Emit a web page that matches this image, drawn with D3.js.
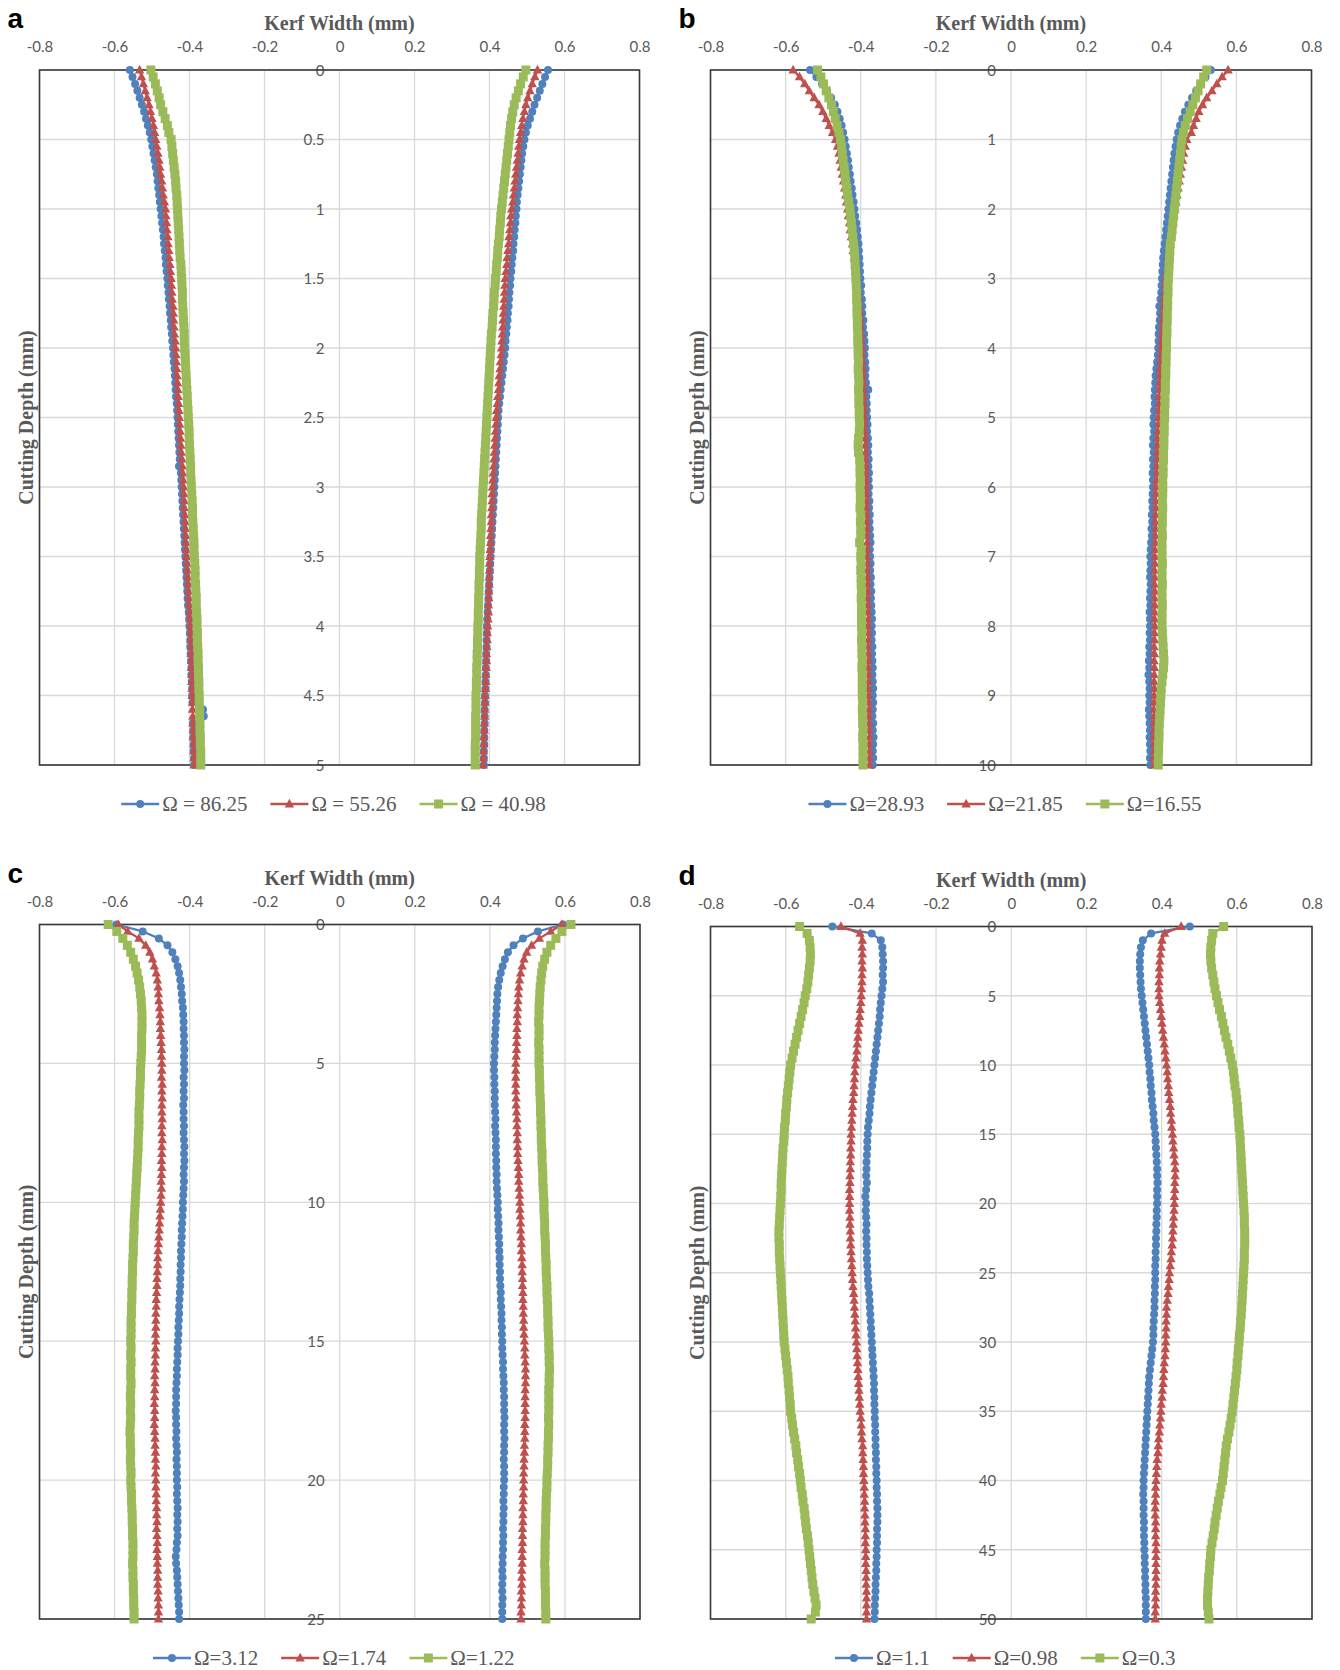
<!DOCTYPE html>
<html><head><meta charset="utf-8">
<script src="https://cdn.jsdelivr.net/npm/d3@7"></script>
<style>body{margin:0;background:#fff}svg{display:block}</style>
</head><body><svg id="chart" width="1340" height="1670"></svg>
<script>
// ---------------- DATA ----------------
const xTicks = [-0.8,-0.6,-0.4,-0.2,0,0.2,0.4,0.6,0.8];
const yTicksA = [0,0.5,1,1.5,2,2.5,3,3.5,4,4.5,5];
const yTicksB = [0,1,2,3,4,5,6,7,8,9,10];
const yTicksC = [0,5,10,15,20,25];
const yTicksD = [0,5,10,15,20,25,30,35,40,45,50];
const depthStepA = 0.05, depthStepB = 0.1, depthStepC = 0.25, depthStepD = 0.5;
const legendA = ["Ω = 86.25","Ω = 55.26","Ω = 40.98"];
const legendB = ["Ω=28.93","Ω=21.85","Ω=16.55"];
const legendC = ["Ω=3.12","Ω=1.74","Ω=1.22"];
const legendD = ["Ω=1.1","Ω=0.98","Ω=0.3"];

// Panel a (depth 0..5 mm)
const aBlueL = [-.559,-.552,-.545,-.539,-.533,-.527,-.521,-.516,-.511,-.506,
-.502,-.499,-.496,-.493,-.490,-.487,-.485,-.483,-.481,-.479,
-.477,-.475,-.473,-.471,-.469,-.468,-.466,-.464,-.463,-.461,
-.459,-.458,-.456,-.455,-.453,-.452,-.450,-.449,-.447,-.446,
-.444,-.443,-.442,-.440,-.439,-.438,-.437,-.436,-.434,-.433,
-.432,-.431,-.430,-.429,-.428,-.427,-.426,-.428,-.423,-.422,
-.421,-.420,-.419,-.418,-.417,-.416,-.415,-.414,-.413,-.412,
-.411,-.410,-.409,-.408,-.407,-.406,-.405,-.404,-.402,-.401,
-.400,-.399,-.398,-.398,-.397,-.396,-.395,-.395,-.394,-.393,
-.393,-.392,-.364,-.362,-.391,-.390,-.390,-.389,-.389,-.388,-.388];
const aRedL = [-.533,-.528,-.523,-.518,-.513,-.508,-.504,-.500,-.496,-.493,
-.490,-.487,-.484,-.481,-.479,-.477,-.474,-.472,-.470,-.467,
-.464,-.463,-.461,-.460,-.458,-.457,-.455,-.454,-.452,-.451,
-.449,-.448,-.447,-.446,-.444,-.443,-.442,-.441,-.440,-.438,
-.437,-.436,-.435,-.434,-.433,-.432,-.431,-.430,-.429,-.428,
-.427,-.426,-.425,-.424,-.423,-.422,-.420,-.419,-.418,-.417,
-.416,-.415,-.414,-.414,-.413,-.412,-.411,-.410,-.410,-.409,
-.408,-.407,-.406,-.405,-.404,-.403,-.402,-.401,-.400,-.399,
-.398,-.397,-.397,-.396,-.396,-.395,-.395,-.394,-.394,-.393,
-.393,-.392,-.392,-.391,-.391,-.390,-.390,-.389,-.389,-.388,-.388];
const aGreenL = [-.503,-.497,-.491,-.486,-.481,-.477,-.471,-.465,-.459,-.455,
-.449,-.447,-.445,-.443,-.441,-.439,-.437,-.436,-.434,-.433,
-.432,-.431,-.430,-.429,-.428,-.427,-.426,-.425,-.423,-.422,
-.421,-.420,-.419,-.419,-.418,-.417,-.416,-.415,-.414,-.414,
-.413,-.412,-.411,-.410,-.409,-.408,-.407,-.406,-.405,-.404,
-.403,-.402,-.401,-.401,-.400,-.399,-.398,-.397,-.397,-.396,
-.395,-.394,-.393,-.392,-.392,-.391,-.390,-.389,-.388,-.388,
-.387,-.386,-.385,-.385,-.384,-.383,-.382,-.382,-.381,-.380,
-.380,-.379,-.379,-.378,-.377,-.377,-.376,-.376,-.375,-.375,
-.374,-.374,-.373,-.373,-.372,-.372,-.371,-.371,-.370,-.370,-.370];
const aBlueR = [.556,.548,.541,.534,.527,.520,.514,.508,.502,.497,
.493,.490,.487,.485,.483,.481,.479,.477,.475,.473,
.472,.470,.469,.467,.466,.464,.463,.461,.459,.458,
.456,.455,.453,.452,.451,.449,.448,.446,.445,.443,
.442,.440,.438,.436,.434,.432,.430,.428,.426,.424,
.423,.422,.421,.420,.419,.418,.417,.416,.415,.414,
.413,.412,.411,.410,.409,.408,.407,.406,.405,.404,
.403,.402,.401,.400,.399,.398,.397,.396,.395,.394,
.393,.393,.392,.392,.391,.391,.390,.390,.389,.389,
.388,.388,.387,.387,.387,.386,.386,.386,.385,.385,.385];
const aRedR = [.528,.521,.514,.508,.502,.497,.493,.489,.486,.483,
.480,.478,.476,.474,.472,.470,.468,.466,.464,.462,
.459,.457,.456,.454,.452,.451,.449,.447,.446,.444,
.442,.441,.440,.439,.438,.437,.436,.435,.434,.433,
.432,.431,.429,.428,.426,.425,.424,.422,.421,.419,
.418,.417,.416,.415,.414,.413,.412,.411,.410,.409,
.408,.407,.407,.406,.405,.405,.404,.403,.403,.402,
.401,.400,.400,.399,.399,.398,.398,.397,.397,.396,
.395,.394,.394,.393,.392,.392,.391,.390,.390,.389,
.388,.388,.387,.387,.386,.386,.385,.385,.384,.384,.383];
const aGreenR = [.497,.490,.483,.477,.471,.466,.462,.459,.456,.454,
.452,.450,.448,.446,.444,.442,.440,.438,.436,.434,
.432,.430,.429,.427,.426,.424,.422,.421,.419,.418,
.416,.415,.413,.412,.411,.409,.408,.407,.405,.404,
.403,.402,.401,.400,.399,.398,.397,.396,.395,.394,
.393,.392,.391,.390,.389,.388,.387,.386,.385,.384,
.383,.382,.381,.380,.379,.378,.378,.377,.376,.375,
.374,.374,.373,.373,.372,.372,.371,.371,.370,.370,
.369,.369,.368,.368,.367,.367,.366,.366,.365,.365,
.364,.364,.364,.363,.363,.363,.363,.362,.362,.362,.362];

// Panel b (depth 0..10 mm)
const bBlueL = [-.535,-.518,-.503,-.490,-.479,-.469,-.462,-.456,-.451,-.447,
-.443,-.440,-.437,-.434,-.432,-.429,-.427,-.424,-.422,-.419,
-.417,-.415,-.412,-.410,-.408,-.406,-.405,-.404,-.403,-.402,
-.401,-.399,-.400,-.397,-.396,-.396,-.393,-.394,-.391,-.390,
-.389,-.390,-.388,-.387,-.388,-.386,-.380,-.385,-.384,-.384,
-.383,-.382,-.383,-.381,-.380,-.381,-.379,-.380,-.378,-.379,
-.378,-.379,-.377,-.378,-.376,-.377,-.376,-.375,-.374,-.376,
-.375,-.374,-.375,-.373,-.374,-.372,-.373,-.372,-.371,-.370,
-.371,-.370,-.371,-.369,-.370,-.369,-.368,-.369,-.368,-.367,
-.368,-.367,-.368,-.369,-.367,-.368,-.366,-.367,-.368,-.367,-.368];
const bRedL = [-.580,-.563,-.549,-.537,-.524,-.511,-.501,-.492,-.484,-.475,
-.467,-.462,-.458,-.455,-.452,-.449,-.446,-.443,-.440,-.438,
-.435,-.433,-.430,-.428,-.425,-.422,-.420,-.417,-.415,-.412,
-.410,-.408,-.407,-.405,-.404,-.402,-.401,-.400,-.399,-.398,
-.397,-.396,-.395,-.394,-.394,-.393,-.392,-.392,-.391,-.390,
-.390,-.389,-.389,-.388,-.388,-.387,-.387,-.386,-.386,-.385,
-.385,-.385,-.384,-.385,-.384,-.384,-.383,-.384,-.383,-.383,
-.383,-.382,-.383,-.382,-.382,-.381,-.382,-.381,-.381,-.380,
-.381,-.380,-.380,-.381,-.380,-.379,-.380,-.379,-.379,-.380,
-.379,-.379,-.378,-.379,-.378,-.378,-.377,-.378,-.377,-.377,-.377];
const bGreenL = [-.515,-.506,-.499,-.492,-.485,-.478,-.473,-.468,-.463,-.458,
-.454,-.451,-.449,-.447,-.444,-.442,-.440,-.437,-.435,-.432,
-.429,-.427,-.425,-.423,-.421,-.419,-.417,-.416,-.415,-.414,
-.413,-.412,-.411,-.411,-.410,-.410,-.409,-.409,-.408,-.408,
-.407,-.407,-.406,-.407,-.406,-.405,-.406,-.405,-.405,-.404,
-.404,-.403,-.404,-.406,-.407,-.406,-.403,-.402,-.402,-.401,
-.402,-.401,-.401,-.402,-.400,-.401,-.400,-.400,-.403,-.399,
-.400,-.399,-.400,-.399,-.399,-.398,-.399,-.398,-.398,-.398,
-.398,-.397,-.398,-.397,-.397,-.396,-.397,-.396,-.396,-.396,
-.396,-.395,-.396,-.395,-.395,-.394,-.395,-.394,-.394,-.394,-.394];
const bBlueR = [.532,.518,.505,.493,.482,.472,.463,.456,.450,.445,
.441,.438,.435,.433,.431,.429,.427,.425,.423,.421,
.419,.417,.415,.413,.411,.409,.407,.405,.404,.403,
.402,.401,.400,.398,.395,.397,.396,.394,.393,.393,
.392,.391,.389,.387,.385,.384,.383,.382,.383,.381,
.380,.379,.381,.379,.378,.380,.378,.379,.377,.378,
.378,.377,.376,.377,.375,.376,.374,.375,.373,.372,
.371,.372,.371,.370,.372,.371,.370,.371,.369,.370,
.370,.369,.370,.368,.369,.367,.368,.366,.368,.369,
.368,.369,.367,.368,.369,.370,.369,.370,.371,.370,.371];
const bRedR = [.578,.562,.548,.535,.521,.510,.500,.493,.486,.480,
.468,.464,.460,.457,.454,.451,.448,.445,.442,.439,
.436,.433,.430,.428,.425,.423,.420,.418,.416,.414,
.412,.410,.409,.407,.406,.405,.404,.403,.402,.401,
.400,.399,.398,.397,.396,.396,.395,.394,.394,.393,
.392,.392,.391,.390,.390,.389,.389,.388,.388,.387,
.386,.386,.385,.386,.385,.384,.385,.384,.384,.383,
.383,.383,.382,.383,.382,.383,.382,.383,.382,.382,
.383,.382,.382,.381,.382,.381,.382,.381,.381,.382,
.381,.381,.380,.381,.380,.381,.380,.381,.381,.380,.381];
const bGreenR = [.521,.513,.505,.498,.491,.484,.477,.470,.464,.459,
.455,.453,.451,.449,.447,.445,.443,.441,.439,.437,
.435,.433,.431,.429,.427,.424,.423,.422,.421,.420,
.419,.418,.418,.417,.417,.416,.416,.415,.415,.414,
.414,.413,.413,.412,.412,.411,.411,.410,.410,.409,
.409,.408,.408,.407,.407,.406,.406,.405,.405,.404,
.404,.404,.403,.404,.403,.403,.402,.403,.402,.402,
.402,.403,.402,.402,.403,.402,.402,.403,.402,.402,
.402,.403,.404,.405,.406,.407,.406,.404,.402,.400,
.399,.398,.397,.396,.395,.394,.394,.393,.393,.392,.392];

// Panel c (depth 0..25 mm)
const cBlueL = [-.595,-.525,-.482,-.459,-.446,-.438,-.432,-.428,-.425,-.423,
-.421,-.420,-.418,-.417,-.416,-.416,-.415,-.415,-.414,-.415,
-.415,-.414,-.416,-.415,-.416,-.415,-.417,-.416,-.416,-.415,
-.416,-.415,-.414,-.415,-.414,-.415,-.416,-.415,-.416,-.417,
-.418,-.418,-.419,-.420,-.421,-.421,-.422,-.423,-.423,-.424,
-.424,-.425,-.425,-.426,-.427,-.428,-.428,-.429,-.430,-.430,
-.431,-.432,-.432,-.433,-.434,-.434,-.435,-.436,-.436,-.436,
-.437,-.436,-.436,-.435,-.436,-.435,-.434,-.435,-.434,-.434,
-.434,-.433,-.434,-.433,-.432,-.433,-.432,-.433,-.432,-.434,
-.435,-.437,-.436,-.434,-.433,-.432,-.431,-.430,-.429,-.428,-.428];
const cRedL = [-.590,-.565,-.535,-.517,-.506,-.499,-.494,-.489,-.486,-.484,
-.483,-.482,-.480,-.479,-.478,-.478,-.477,-.476,-.475,-.475,
-.474,-.474,-.475,-.473,-.474,-.473,-.474,-.474,-.473,-.474,
-.474,-.473,-.474,-.474,-.475,-.474,-.475,-.476,-.475,-.476,
-.477,-.478,-.479,-.480,-.481,-.482,-.483,-.484,-.485,-.485,
-.486,-.487,-.487,-.488,-.489,-.489,-.490,-.490,-.490,-.491,
-.490,-.491,-.491,-.492,-.492,-.493,-.492,-.493,-.493,-.494,
-.493,-.493,-.494,-.493,-.492,-.492,-.491,-.491,-.490,-.491,
-.490,-.490,-.489,-.489,-.488,-.488,-.487,-.488,-.487,-.486,
-.487,-.486,-.486,-.485,-.485,-.485,-.484,-.484,-.483,-.483,-.483];
const cGreenL = [-.617,-.594,-.578,-.566,-.557,-.550,-.544,-.540,-.536,-.533,
-.531,-.529,-.528,-.527,-.527,-.527,-.528,-.528,-.528,-.529,
-.530,-.531,-.531,-.532,-.533,-.533,-.534,-.535,-.535,-.535,
-.536,-.537,-.537,-.538,-.539,-.540,-.541,-.542,-.543,-.544,
-.545,-.546,-.547,-.548,-.548,-.549,-.550,-.550,-.551,-.552,
-.552,-.553,-.553,-.554,-.554,-.555,-.555,-.556,-.556,-.556,
-.557,-.556,-.557,-.556,-.557,-.557,-.556,-.557,-.558,-.557,
-.558,-.557,-.558,-.559,-.558,-.558,-.557,-.558,-.557,-.556,
-.557,-.556,-.555,-.555,-.554,-.553,-.553,-.552,-.552,-.551,
-.551,-.551,-.552,-.551,-.551,-.550,-.550,-.549,-.549,-.548,-.548];
const cBlueR = [.595,.528,.488,.463,.448,.440,.434,.429,.425,.422,
.420,.419,.418,.417,.416,.415,.414,.413,.413,.412,
.411,.411,.412,.412,.413,.413,.413,.414,.415,.414,
.415,.416,.416,.416,.417,.417,.418,.418,.419,.420,
.421,.421,.422,.423,.423,.424,.425,.425,.426,.426,
.427,.427,.428,.429,.429,.430,.431,.431,.432,.432,
.433,.433,.434,.435,.435,.436,.437,.437,.438,.438,
.438,.439,.438,.438,.439,.438,.438,.437,.438,.438,
.438,.437,.437,.436,.437,.436,.436,.435,.436,.435,
.435,.434,.434,.433,.434,.433,.433,.434,.433,.433,.433];
const cRedR = [.592,.562,.532,.511,.498,.491,.486,.482,.479,.477,
.476,.475,.474,.473,.473,.472,.472,.471,.471,.470,
.469,.469,.469,.469,.469,.470,.470,.471,.472,.472,
.473,.473,.474,.474,.475,.476,.477,.477,.478,.479,
.480,.480,.481,.482,.482,.483,.484,.484,.485,.486,
.486,.487,.487,.488,.488,.489,.489,.490,.490,.491,
.492,.493,.493,.494,.495,.495,.495,.494,.494,.494,
.494,.494,.493,.493,.493,.492,.492,.491,.491,.490,
.490,.490,.489,.489,.488,.488,.488,.487,.487,.487,
.486,.486,.486,.485,.485,.485,.484,.484,.484,.483,.483];
const cGreenR = [.616,.592,.576,.562,.552,.546,.541,.538,.536,.534,
.533,.532,.531,.531,.530,.531,.531,.530,.531,.531,
.531,.532,.532,.533,.533,.534,.535,.535,.536,.536,
.537,.537,.538,.539,.539,.540,.541,.541,.542,.543,
.544,.544,.545,.546,.546,.547,.548,.548,.549,.550,
.550,.551,.552,.552,.553,.554,.554,.555,.555,.556,
.557,.557,.558,.558,.559,.558,.558,.557,.557,.557,
.557,.556,.557,.556,.556,.555,.555,.554,.554,.553,
.552,.552,.551,.550,.550,.549,.549,.548,.548,.547,
.547,.547,.546,.547,.547,.547,.548,.548,.548,.549,.549];

// Panel d (depth 0..50 mm)
const dBlueL = [-.476,-.371,-.347,-.343,-.342,-.341,-.341,-.342,-.341,-.343,
-.345,-.347,-.349,-.350,-.352,-.354,-.356,-.358,-.360,-.362,
-.364,-.366,-.368,-.370,-.372,-.374,-.376,-.377,-.379,-.381,
-.382,-.383,-.383,-.384,-.385,-.385,-.386,-.384,-.386,-.388,
-.386,-.387,-.386,-.385,-.386,-.385,-.385,-.384,-.384,-.383,
-.382,-.381,-.380,-.378,-.377,-.376,-.375,-.374,-.373,-.372,
-.371,-.370,-.369,-.368,-.367,-.366,-.365,-.365,-.364,-.364,
-.363,-.363,-.362,-.362,-.361,-.361,-.360,-.360,-.359,-.359,
-.358,-.358,-.357,-.357,-.356,-.356,-.356,-.357,-.357,-.357,
-.358,-.358,-.359,-.359,-.360,-.361,-.361,-.362,-.363,-.363,-.364];
const dRedL = [-.453,-.402,-.396,-.397,-.396,-.397,-.396,-.397,-.397,-.398,
-.399,-.400,-.402,-.403,-.405,-.407,-.408,-.410,-.411,-.413,
-.415,-.416,-.417,-.418,-.419,-.421,-.422,-.423,-.424,-.425,
-.426,-.426,-.427,-.427,-.428,-.428,-.429,-.429,-.430,-.430,
-.430,-.430,-.429,-.429,-.428,-.428,-.427,-.426,-.425,-.424,
-.423,-.422,-.421,-.419,-.418,-.417,-.416,-.415,-.414,-.413,
-.412,-.411,-.410,-.409,-.408,-.407,-.406,-.405,-.404,-.403,
-.402,-.400,-.399,-.398,-.397,-.395,-.395,-.394,-.393,-.393,
-.392,-.391,-.391,-.390,-.390,-.389,-.389,-.388,-.388,-.388,
-.387,-.387,-.387,-.386,-.386,-.386,-.385,-.385,-.385,-.385,-.385];
const dGreenL = [-.563,-.543,-.537,-.535,-.534,-.535,-.537,-.539,-.541,-.544,
-.548,-.551,-.555,-.559,-.563,-.567,-.571,-.575,-.579,-.583,
-.587,-.589,-.591,-.593,-.595,-.597,-.598,-.600,-.601,-.603,
-.604,-.605,-.607,-.608,-.609,-.610,-.611,-.612,-.612,-.613,
-.614,-.615,-.616,-.617,-.618,-.618,-.617,-.617,-.616,-.615,
-.614,-.613,-.612,-.611,-.610,-.609,-.608,-.607,-.606,-.605,
-.604,-.602,-.600,-.598,-.596,-.594,-.593,-.591,-.590,-.588,
-.587,-.584,-.582,-.579,-.576,-.573,-.571,-.568,-.566,-.563,
-.561,-.559,-.556,-.554,-.551,-.549,-.547,-.545,-.542,-.540,
-.538,-.536,-.534,-.532,-.530,-.528,-.525,-.522,-.519,-.521,-.532];
const dBlueR = [.475,.372,.350,.345,.343,.342,.342,.343,.344,.345,
.347,.349,.351,.353,.355,.357,.359,.361,.363,.365,
.367,.368,.370,.371,.373,.374,.376,.378,.379,.381,
.383,.384,.385,.386,.387,.388,.388,.389,.388,.388,
.388,.387,.387,.386,.386,.385,.385,.384,.384,.383,
.383,.383,.382,.382,.381,.381,.380,.379,.378,.378,
.377,.375,.373,.371,.369,.367,.366,.365,.364,.363,
.362,.361,.360,.359,.358,.357,.356,.355,.354,.353,
.352,.352,.351,.352,.352,.352,.353,.353,.353,.354,
.354,.355,.355,.356,.356,.357,.357,.358,.358,.358,.358];
const dRedR = [.452,.408,.401,.399,.397,.395,.394,.394,.393,.393,
.393,.395,.397,.399,.401,.403,.405,.407,.409,.411,
.413,.415,.416,.418,.419,.421,.423,.424,.426,.427,
.429,.430,.432,.433,.435,.436,.436,.435,.435,.434,
.434,.433,.432,.431,.430,.429,.428,.426,.425,.423,
.421,.420,.418,.417,.415,.413,.413,.412,.412,.411,
.411,.410,.409,.407,.406,.405,.404,.402,.401,.399,
.398,.397,.395,.394,.392,.391,.390,.388,.387,.386,
.385,.384,.384,.383,.383,.383,.384,.384,.384,.385,
.385,.385,.385,.385,.385,.385,.384,.384,.384,.383,.383];
const dGreenR = [.565,.536,.533,.531,.530,.531,.533,.536,.539,.542,
.546,.550,.554,.559,.563,.567,.571,.576,.580,.584,
.588,.591,.593,.595,.598,.600,.602,.603,.605,.606,
.608,.609,.610,.611,.612,.613,.614,.615,.616,.617,
.618,.619,.620,.620,.621,.621,.621,.620,.620,.619,
.618,.617,.616,.615,.614,.613,.612,.610,.609,.607,
.606,.604,.603,.601,.600,.598,.596,.594,.592,.590,
.588,.585,.582,.579,.575,.572,.570,.568,.566,.564,
.562,.558,.555,.551,.548,.545,.542,.540,.537,.534,
.531,.530,.528,.527,.525,.524,.523,.522,.522,.524,.526];

// ---------------- LAYOUT / STYLE ----------------
const seriesColors = ["#4F81BD", "#C0504D", "#9BBB59"];
const markerPaths = [
  d3.symbol(d3.symbolCircle, Math.PI * 4 * 4)(),
  "M0,-5.2L4.7,3.4L-4.7,3.4Z",
  "M-4.5,-4.5H4.5V4.5H-4.5Z"
];
const panels = [
  {label:"a", yMax:5,  yTicks:yTicksA, step:depthStepA, legend:legendA,
   left:[aBlueL,aRedL,aGreenL], right:[aBlueR,aRedR,aGreenR], box:{x0:39.5,x1:639.5,y0:70,y1:765}},
  {label:"b", yMax:10, yTicks:yTicksB, step:depthStepB, legend:legendB,
   left:[bBlueL,bRedL,bGreenL], right:[bBlueR,bRedR,bGreenR], box:{x0:710.5,x1:1311.5,y0:70,y1:765}},
  {label:"c", yMax:25, yTicks:yTicksC, step:depthStepC, legend:legendC,
   left:[cBlueL,cRedL,cGreenL], right:[cBlueR,cRedR,cGreenR], box:{x0:39.5,x1:640,y0:924.5,y1:1619}},
  {label:"d", yMax:50, yTicks:yTicksD, step:depthStepD, legend:legendD,
   left:[dBlueL,dRedL,dGreenL], right:[dBlueR,dRedR,dGreenR], box:{x0:710.5,x1:1312,y0:926.5,y1:1619}}
];

panels.forEach(p => [...p.left, ...p.right].forEach((arr, k) => {
  if (arr.length !== 101) throw new Error("panel " + p.label + " series " + k + " length " + arr.length);
}));

const svg = d3.select("#chart");
const grey = "#595959";

panels.forEach(p => {
  const {x0, x1, y0, y1} = p.box;
  const x = d3.scaleLinear().domain([-0.8, 0.8]).range([x0, x1]);
  const y = d3.scaleLinear().domain([0, p.yMax]).range([y0, y1]);
  const g = svg.append("g");

  // gridlines
  g.append("g").selectAll("line").data(xTicks).join("line")
    .attr("x1", d => x(d)).attr("x2", d => x(d)).attr("y1", y0).attr("y2", y1)
    .attr("stroke", "#d9d9d9").attr("stroke-width", 1.3);
  g.append("g").selectAll("line").data(p.yTicks).join("line")
    .attr("x1", x0).attr("x2", x1).attr("y1", d => y(d)).attr("y2", d => y(d))
    .attr("stroke", "#d9d9d9").attr("stroke-width", 1.3);

  // top axis labels
  const ax = g.append("g").attr("transform", `translate(0,${y0 - 23})`)
    .call(d3.axisTop(x).tickValues(xTicks).tickSize(0).tickPadding(0).tickFormat(d => String(d)));
  ax.select(".domain").remove();
  ax.attr("font-family", "Lato, 'Open Sans', sans-serif").attr("font-size", 15);
  ax.selectAll("text").attr("fill", grey).attr("dy", "0.35em");

  // vertical axis labels at x = 0
  const ay = g.append("g").attr("transform", `translate(${x(0) - 15},0)`)
    .call(d3.axisLeft(y).tickValues(p.yTicks).tickSize(0).tickPadding(0).tickFormat(d => String(d)));
  ay.select(".domain").remove();
  ay.attr("font-family", "Lato, 'Open Sans', sans-serif").attr("font-size", 15);
  ay.selectAll("text").attr("fill", grey).attr("dy", "0.35em");

  // plot border
  g.append("rect").attr("x", x0).attr("y", y0).attr("width", x1 - x0).attr("height", y1 - y0)
    .attr("fill", "none").attr("stroke", "#3a3a3a").attr("stroke-width", 1.6);

  // series
  const line = d3.line().x(d => x(d.v)).y(d => y(d.depth));
  [0, 1, 2].forEach(s => {
    [p.left[s], p.right[s]].forEach(arr => {
      const pts = arr.map((v, i) => ({v, depth: i * p.step}));
      g.append("path").datum(pts).attr("d", line).attr("fill", "none")
        .attr("stroke", seriesColors[s]).attr("stroke-width", 2.3).attr("stroke-linejoin", "round");
      g.append("g").selectAll("path").data(pts).join("path")
        .attr("d", markerPaths[s])
        .attr("transform", d => `translate(${x(d.v)},${y(d.depth)})`)
        .attr("fill", seriesColors[s]);
    });
  });

  // axis titles
  g.append("text").attr("x", x(0)).attr("y", y0 - 46.6).attr("dy", "0.35em")
    .attr("text-anchor", "middle").attr("font-family", "'Liberation Serif', 'Times New Roman', serif")
    .attr("font-weight", "bold").attr("font-size", 20).attr("fill", grey).text("Kerf Width (mm)");
  g.append("text").attr("transform", `translate(${x0 - 14},${(y0 + y1) / 2}) rotate(-90)`).attr("dy", "0.35em")
    .attr("text-anchor", "middle").attr("font-family", "'Liberation Serif', 'Times New Roman', serif")
    .attr("font-weight", "bold").attr("font-size", 20).attr("fill", grey).text("Cutting Depth (mm)");

  // panel label
  g.append("text").attr("x", x0 - 32).attr("y", y0 - 42)
    .attr("font-family", "'Liberation Sans', Arial, sans-serif").attr("font-weight", "bold")
    .attr("font-size", 28).attr("fill", "#000").text(p.label);

  // legend
  const lg = g.append("g").attr("transform", `translate(0,${y1 + 39})`);
  const items = p.legend.map((name, s) => {
    const it = lg.append("g");
    it.append("line").attr("x1", 0).attr("x2", 38).attr("y1", 0).attr("y2", 0)
      .attr("stroke", seriesColors[s]).attr("stroke-width", 2.5);
    it.append("path").attr("d", markerPaths[s]).attr("transform", "translate(19,0)").attr("fill", seriesColors[s]);
    const t = it.append("text").attr("x", 41).attr("dy", "0.35em")
      .attr("font-family", "'Liberation Serif', 'Times New Roman', serif")
      .attr("font-size", 21).attr("fill", grey).text(name);
    return {it, w: 41 + t.node().getComputedTextLength()};
  });
  const gap = 23;
  const total = d3.sum(items, d => d.w) + gap * (items.length - 1);
  let cx = (x0 + x1) / 2 - 6 - total / 2;
  items.forEach(d => { d.it.attr("transform", `translate(${cx},0)`); cx += d.w + gap; });
});
</script>
</body></html>
